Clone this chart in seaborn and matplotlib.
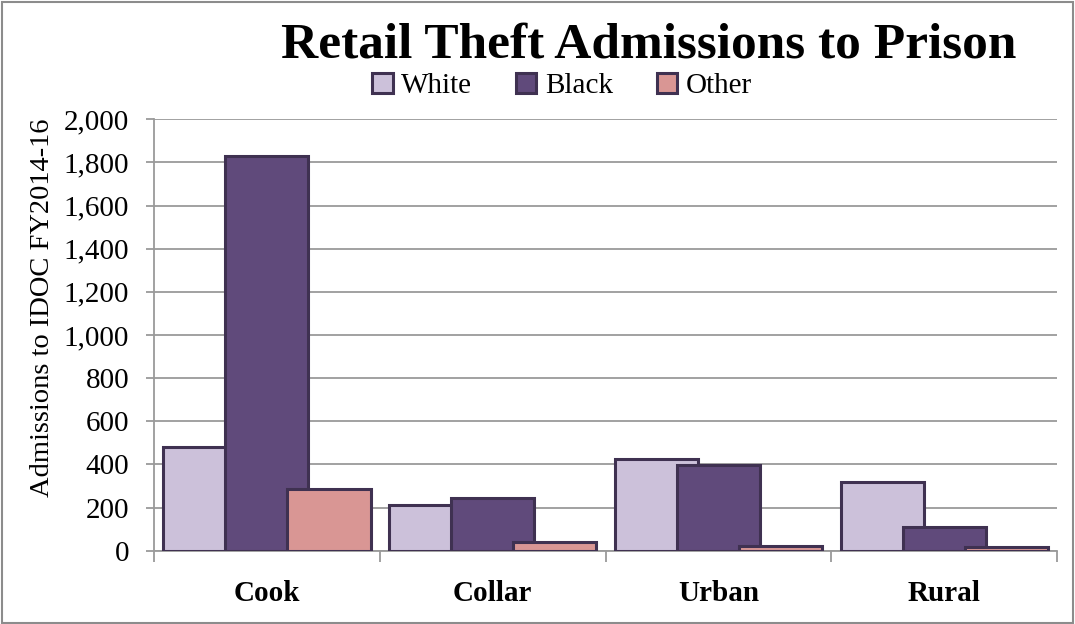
import numpy as np
import pandas as pd
import matplotlib
matplotlib.use("Agg")
import matplotlib.pyplot as plt
import seaborn as sns
from matplotlib.patches import Rectangle, Patch

regions = ["Cook", "Collar", "Urban", "Rural"]
races = ["White", "Black", "Other"]
white = [482, 214, 426, 318]
black = [1830, 245, 397, 108]
other = [288, 41, 20, 17]
yticks = [0, 200, 400, 600, 800, 1000, 1200, 1400, 1600, 1800, 2000]

colors = {"White": "#CCC1DA", "Black": "#604A7B", "Other": "#D99694"}
edge = "#3F3151"

sns.set_theme(style="white")
plt.rcParams["font.family"] = ["Liberation Serif", "DejaVu Serif"]
plt.rcParams["text.color"] = "black"
plt.rcParams["axes.labelcolor"] = "black"
plt.rcParams["xtick.labelcolor"] = "black"
plt.rcParams["ytick.labelcolor"] = "black"

fig = plt.figure(figsize=(10.75, 6.24), dpi=100)
ax = fig.add_axes([0.1433, 0.1175, 0.9833 - 0.1433, 0.8088 - 0.1175])

series = {"White": white, "Black": black, "Other": other}
offsets = {"White": -0.275, "Black": 0.0, "Other": 0.275}
idx = np.arange(len(regions))
for race in races:
    df = pd.DataFrame({"pos": idx + offsets[race], "val": series[race]})
    sns.barplot(data=df, x="pos", y="val", native_scale=True, orient="x",
                width=0.368, color=colors[race], edgecolor=edge,
                linewidth=2.2, saturation=1, ax=ax, zorder=3)

ax.set_xlim(-0.5, len(regions) - 0.5)
ax.set_ylim(0, 2000)
ax.set_yticks(yticks)
ax.set_yticklabels([f"{v:,}" for v in yticks], fontsize=21)
ax.yaxis.grid(True, color="#9A9A9A", linewidth=1.3, zorder=0)
ax.set_axisbelow(True)
ax.tick_params(axis="y", which="major", length=6, width=1.3, color="#9A9A9A",
               direction="out", left=True, pad=12)

ax.set_xticks(idx)
ax.set_xticklabels(regions, fontsize=21, fontweight="bold")
ax.set_xticks(np.arange(-0.5, len(regions) + 0.5, 1), minor=True)
ax.tick_params(axis="x", which="major", length=0, pad=21)
ax.tick_params(axis="x", which="minor", length=8, width=1.3, color="#9A9A9A",
               direction="out", bottom=True)

for s in ["top", "right"]:
    ax.spines[s].set_visible(False)
for s in ["left", "bottom"]:
    ax.spines[s].set_color("#9A9A9A")
    ax.spines[s].set_linewidth(1.3)

ax.set_xlabel("")
ax.set_ylabel("Admissions to IDOC FY2014-16", fontsize=20.5)
ax.yaxis.set_label_coords(-0.11, 0.563)

fig.text(0.603, 0.927, "Retail Theft Admissions to Prison", ha="center",
         va="center", fontsize=37, fontweight="bold")

handles = [Patch(facecolor=colors[r], edgecolor=edge, linewidth=2.2, label=r)
           for r in races]
fig.legend(handles=handles, loc="center", bbox_to_anchor=(0.523, 0.862),
           ncol=3, frameon=False, fontsize=21, handlelength=0.7,
           handleheight=0.7, handletextpad=0.3, columnspacing=1.5,
           borderpad=0)

fig.patches.append(Rectangle((0.002, 0.002), 0.996, 0.994, transform=fig.transFigure,
                             fill=False, edgecolor="#8C8C8C", linewidth=1.5))

fig.savefig("out.png", dpi=100)
